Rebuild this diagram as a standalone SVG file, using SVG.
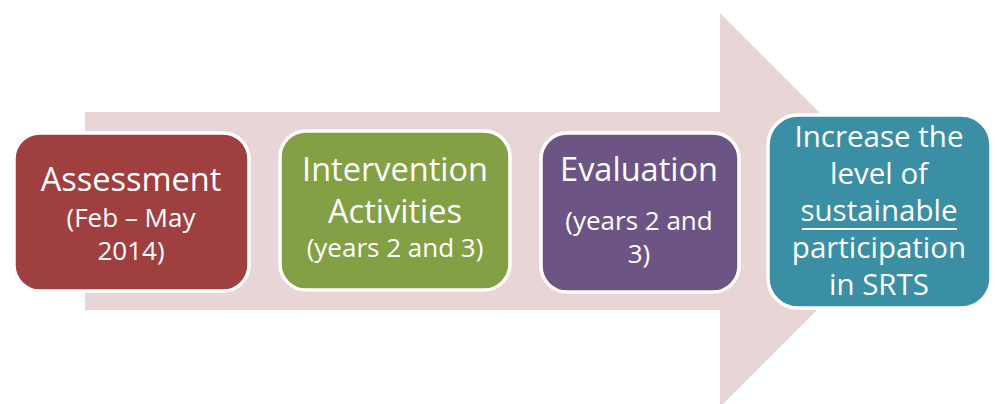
<svg xmlns="http://www.w3.org/2000/svg" width="997" height="404" viewBox="0 0 997 404">
<style>
.box{stroke:#ffffff;stroke-width:3.5}
.t{font-family:"Open Sans","Liberation Sans",sans-serif;fill:#ffffff;text-anchor:middle}
.big{font-size:32.5px}
.small{font-size:26px}
.goal{font-size:29.5px}
</style>
<rect width="997" height="404" fill="#ffffff"/>
<g id="connectors">
<path d="M85,112 H720 V13 L917,210 L720,407 V310 H85 Z" fill="#e8d5d5"/>
</g>
<g id="assessment">
<rect class="box" x="14" y="133" width="235" height="158" rx="26" fill="#9f3f3f"/>
<text class="t big" x="131" y="191">Assessment</text>
<text class="t small" x="131" y="227">(Feb – May</text>
<text class="t small" x="131" y="260">2014)</text>
</g>
<g id="intervention">
<rect class="box" x="280" y="131" width="230" height="159" rx="26" fill="#84a045"/>
<text class="t big" x="395" y="181">Intervention</text>
<text class="t big" x="395" y="223">Activities</text>
<text class="t small" x="395" y="257">(years 2 and 3)</text>
</g>
<g id="evaluation">
<rect class="box" x="541" y="133" width="198" height="159" rx="26" fill="#6c5484"/>
<text class="t big" x="639" y="181">Evaluation</text>
<text class="t small" x="639" y="230">(years 2 and</text>
<text class="t small" x="639" y="263">3)</text>
</g>
<g id="goal">
<rect class="box" x="768" y="115" width="223" height="193" rx="30" fill="#3a8fa4"/>
<text class="t goal" x="879" y="147">Increase the</text>
<text class="t goal" x="879" y="184">level of</text>
<text class="t goal" x="879" y="221">sustainable</text>
<line x1="802" y1="229" x2="957" y2="229" stroke="#ffffff" stroke-width="2"/>
<text class="t goal" x="879" y="258">participation</text>
<text class="t goal" x="879" y="295">in SRTS</text>
</g>
</svg>
